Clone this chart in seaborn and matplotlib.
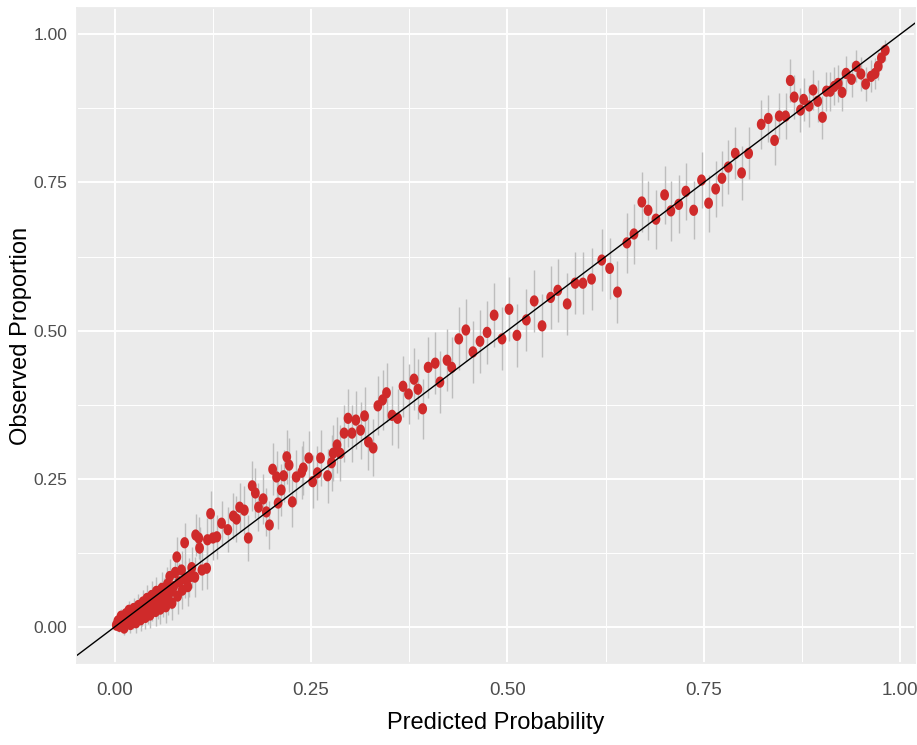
import numpy as np
import pandas as pd
import seaborn as sns
import matplotlib.pyplot as plt
from matplotlib.ticker import FormatStrFormatter

# predicted probability per bin
pred = [0.002, 0.004, 0.006, 0.008, 0.009, 0.011, 0.012, 0.014, 0.015, 0.017,
        0.018, 0.020, 0.021, 0.023, 0.024, 0.026, 0.027, 0.029, 0.030, 0.032,
        0.033, 0.035, 0.036, 0.038, 0.039, 0.041, 0.042, 0.044, 0.045, 0.047,
        0.048, 0.050, 0.052, 0.053, 0.055, 0.057, 0.058, 0.060, 0.062, 0.063,
        0.065, 0.067, 0.068, 0.070, 0.072, 0.073, 0.075, 0.077, 0.079, 0.080,
        0.082, 0.085, 0.086, 0.089, 0.090, 0.093, 0.095, 0.098, 0.102, 0.103,
        0.107, 0.108, 0.111, 0.117, 0.118, 0.122, 0.125, 0.130, 0.136, 0.144,
        0.151, 0.155, 0.159, 0.165, 0.170, 0.175, 0.179, 0.183, 0.189, 0.193,
        0.197, 0.201, 0.206, 0.208, 0.212, 0.215, 0.219, 0.222, 0.226, 0.231,
        0.238, 0.240, 0.247, 0.252, 0.258, 0.262, 0.271, 0.276, 0.278, 0.283,
        0.287, 0.292, 0.297, 0.302, 0.307, 0.313, 0.318, 0.323, 0.329, 0.335,
        0.341, 0.346, 0.353, 0.360, 0.367, 0.374, 0.381, 0.386, 0.392, 0.399,
        0.408, 0.414, 0.423, 0.429, 0.438, 0.447, 0.456, 0.465, 0.474, 0.483,
        0.493, 0.502, 0.512, 0.524, 0.534, 0.544, 0.555, 0.564, 0.576, 0.586,
        0.596, 0.607, 0.620, 0.630, 0.640, 0.652, 0.661, 0.671, 0.679, 0.689,
        0.700, 0.708, 0.718, 0.727, 0.737, 0.747, 0.756, 0.765, 0.773, 0.781,
        0.790, 0.798, 0.807, 0.823, 0.832, 0.840, 0.846, 0.854, 0.860, 0.865,
        0.873, 0.877, 0.884, 0.889, 0.895, 0.901, 0.906, 0.911, 0.916, 0.921,
        0.926, 0.931, 0.938, 0.944, 0.950, 0.956, 0.963, 0.968, 0.972, 0.976,
        0.981]

# observed proportion per bin
obs = [0.003, 0.010, 0.001, 0.018, 0.006, 0.013, -0.002, 0.022, 0.008, 0.016,
       0.028, 0.004, 0.020, 0.012, 0.031, 0.024, 0.007, 0.017, 0.036, 0.028,
       0.012, 0.022, 0.042, 0.032, 0.016, 0.048, 0.027, 0.038, 0.020, 0.053,
       0.033, 0.044, 0.026, 0.060, 0.038, 0.050, 0.030, 0.065, 0.044, 0.056,
       0.034, 0.072, 0.048, 0.085, 0.060, 0.040, 0.068, 0.092, 0.118, 0.052,
       0.076, 0.096, 0.062, 0.142, 0.080, 0.068, 0.084, 0.100, 0.084, 0.155,
       0.150, 0.133, 0.096, 0.099, 0.147, 0.191, 0.150, 0.152, 0.175, 0.164,
       0.187, 0.182, 0.202, 0.197, 0.150, 0.238, 0.226, 0.202, 0.216, 0.194,
       0.172, 0.266, 0.253, 0.209, 0.231, 0.255, 0.287, 0.273, 0.211, 0.253,
       0.261, 0.268, 0.285, 0.245, 0.260, 0.285, 0.255, 0.277, 0.293, 0.307,
       0.293, 0.327, 0.352, 0.327, 0.349, 0.332, 0.356, 0.312, 0.302, 0.373,
       0.383, 0.395, 0.357, 0.352, 0.406, 0.393, 0.418, 0.401, 0.368, 0.438,
       0.445, 0.413, 0.450, 0.438, 0.486, 0.501, 0.464, 0.482, 0.497, 0.526,
       0.486, 0.536, 0.492, 0.518, 0.550, 0.508, 0.556, 0.568, 0.545, 0.580,
       0.580, 0.587, 0.619, 0.605, 0.565, 0.648, 0.663, 0.717, 0.703, 0.688,
       0.729, 0.702, 0.713, 0.735, 0.703, 0.754, 0.715, 0.739, 0.757, 0.776,
       0.799, 0.766, 0.799, 0.848, 0.858, 0.821, 0.862, 0.862, 0.922, 0.894,
       0.872, 0.890, 0.879, 0.906, 0.887, 0.860, 0.904, 0.904, 0.912, 0.917,
       0.902, 0.934, 0.924, 0.946, 0.933, 0.916, 0.929, 0.934, 0.946, 0.960,
       0.973]

# half width of the interval
half = [0.008, 0.010, 0.010, 0.012, 0.012, 0.013, 0.012, 0.014, 0.014, 0.015,
        0.016, 0.015, 0.016, 0.016, 0.018, 0.018, 0.017, 0.018, 0.019, 0.019,
        0.019, 0.020, 0.021, 0.021, 0.020, 0.022, 0.022, 0.022, 0.022, 0.024,
        0.023, 0.024, 0.024, 0.025, 0.025, 0.026, 0.025, 0.027, 0.027, 0.027,
        0.027, 0.029, 0.028, 0.030, 0.029, 0.029, 0.030, 0.031, 0.033, 0.030,
        0.031, 0.032, 0.031, 0.034, 0.032, 0.032, 0.033, 0.034, 0.034, 0.036,
        0.036, 0.035, 0.034, 0.035, 0.036, 0.038, 0.037, 0.037, 0.038, 0.038,
        0.039, 0.039, 0.040, 0.040, 0.039, 0.042, 0.042, 0.041, 0.042, 0.041,
        0.041, 0.044, 0.044, 0.043, 0.044, 0.044, 0.046, 0.045, 0.043, 0.045,
        0.045, 0.046, 0.046, 0.045, 0.046, 0.047, 0.046, 0.047, 0.047, 0.048,
        0.047, 0.048, 0.049, 0.048, 0.049, 0.048, 0.049, 0.048, 0.048, 0.050,
        0.050, 0.050, 0.050, 0.050, 0.051, 0.051, 0.052, 0.051, 0.051, 0.052,
        0.052, 0.052, 0.052, 0.052, 0.053, 0.053, 0.053, 0.053, 0.053, 0.054,
        0.053, 0.054, 0.053, 0.053, 0.053, 0.053, 0.053, 0.053, 0.053, 0.052,
        0.052, 0.052, 0.052, 0.052, 0.052, 0.051, 0.051, 0.050, 0.050, 0.050,
        0.049, 0.050, 0.049, 0.048, 0.049, 0.047, 0.048, 0.047, 0.046, 0.045,
        0.044, 0.045, 0.044, 0.041, 0.040, 0.042, 0.039, 0.039, 0.036, 0.037,
        0.037, 0.036, 0.036, 0.034, 0.035, 0.036, 0.033, 0.033, 0.032, 0.031,
        0.032, 0.029, 0.030, 0.027, 0.028, 0.029, 0.027, 0.026, 0.024, 0.021,
        0.018]

df = pd.DataFrame({'pred': pred, 'obs': obs, 'half': half})

sns.set_theme(style='darkgrid', rc={'axes.facecolor': '#EBEBEB',
                                    'axes.edgecolor': '#EBEBEB',
                                    'grid.color': 'white'})
plt.rcParams['font.family'] = ['Liberation Sans', 'DejaVu Sans']

fig, ax = plt.subplots(figsize=(9.17, 7.45), dpi=100)
fig.subplots_adjust(left=0.084, right=0.998, top=0.989, bottom=0.110)

# slightly tall dots, like the reference
t = np.linspace(0, 2 * np.pi, 40)
dot = np.column_stack([0.78 * np.cos(t), np.sin(t)])

ax.vlines(df['pred'], df['obs'] - df['half'], df['obs'] + df['half'],
          color='#BDBDBD', lw=1, zorder=2)
sns.scatterplot(data=df, x='pred', y='obs', ax=ax, color='#CF2A2A',
                s=66, marker=dot, edgecolor='none', linewidth=0, zorder=3)
ax.axline((0, 0), slope=1, color='black', lw=1, zorder=4)

ax.set_xlim(-0.048, 1.019)
ax.set_ylim(-0.061, 1.044)
ticks = [0, 0.25, 0.5, 0.75, 1.0]
ax.set_xticks(ticks)
ax.set_yticks(ticks)
ax.set_xticks([0.125, 0.375, 0.625, 0.875], minor=True)
ax.set_yticks([0.125, 0.375, 0.625, 0.875], minor=True)
ax.xaxis.set_major_formatter(FormatStrFormatter('%.2f'))
ax.yaxis.set_major_formatter(FormatStrFormatter('%.2f'))
ax.grid(which='major', color='white', lw=1.4)
ax.grid(which='minor', color='white', lw=0.7)
ax.tick_params(which='major', length=4, width=1, color='#333333',
               labelcolor='#4D4D4D', labelsize=12.5, pad=3)
ax.tick_params(axis='x', which='major', labelsize=13.5, pad=10)
ax.tick_params(which='minor', length=0)

ax.set_xlabel('Predicted Probability', fontsize=17, color='black', labelpad=9)
ax.set_ylabel('Observed Proportion', fontsize=17, color='black', labelpad=1)

plt.savefig('out.png', dpi=100)
